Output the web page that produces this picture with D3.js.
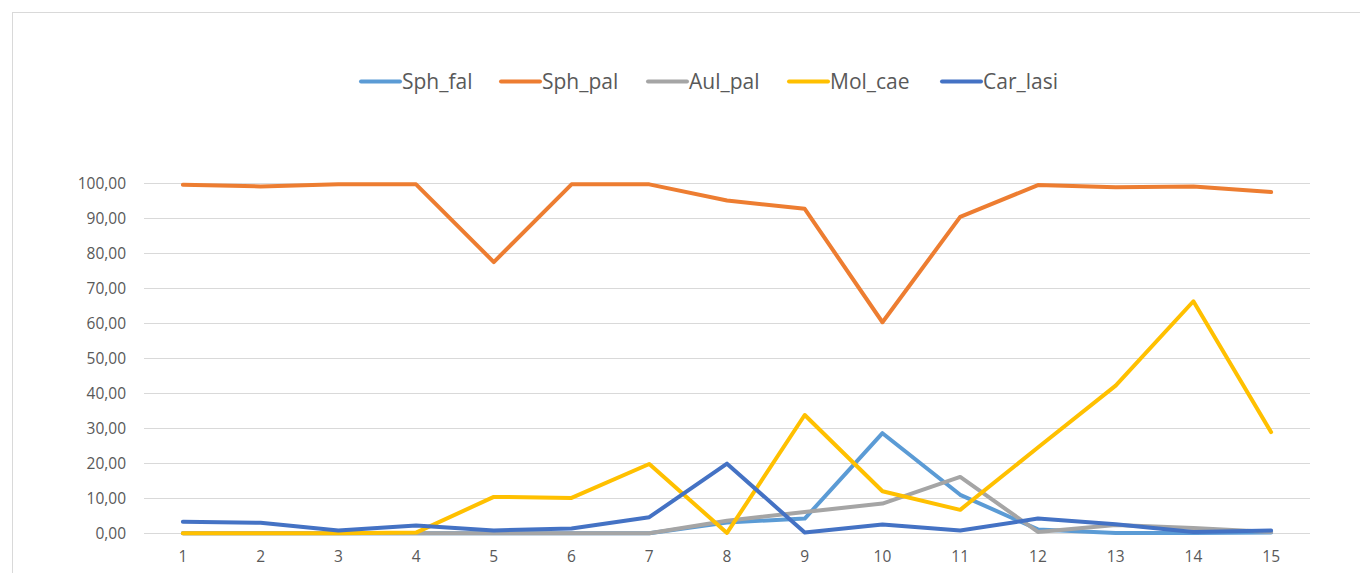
<!DOCTYPE html>
<html><head><meta charset="utf-8">
<script src="https://cdn.jsdelivr.net/npm/d3@7"></script>
<style>
html,body{margin:0;padding:0;background:#fff;}
svg{display:block;}
text{font-family:"Open Sans","Liberation Sans",sans-serif;fill:#595959;}
</style></head>
<body>
<svg id="chart" width="1360" height="573"></svg>
<script>
const categories = ["1","2","3","4","5","6","7","8","9","10","11","12","13","14","15"];
const seriesNames = ["Sph_fal","Sph_pal","Aul_pal","Mol_cae","Car_lasi"];
const seriesColors = ["#5B9BD5","#ED7D31","#A5A5A5","#FFC000","#4472C4"];
const sphFal  = [0.0,0.0,0.0,0.0,0.0,0.0,0.0,3.1,4.2,28.6,11.0,1.1,0.1,0.1,0.2];
const sphPal  = [99.6,99.1,99.7,99.7,77.5,99.7,99.7,95.1,92.7,60.3,90.4,99.5,98.9,99.1,97.5];
const aulPal  = [0.0,0.0,0.0,0.0,0.0,0.0,0.0,3.6,6.1,8.5,16.1,0.4,2.4,1.5,0.4];
const molCae  = [0.0,0.0,0.0,0.2,10.4,10.1,19.8,0.1,33.8,12.0,6.7,24.5,42.2,66.3,28.9];
const carLasi = [3.3,3.0,0.8,2.2,0.8,1.4,4.6,19.9,0.2,2.5,0.8,4.2,2.6,0.4,0.8];
const yTicks  = [0,10,20,30,40,50,60,70,80,90,100];
const seriesValues = [sphFal, sphPal, aulPal, molCae, carLasi];

const svg = d3.select("#chart");
// chart frame
svg.append("rect").attr("x",12.5).attr("y",12.5).attr("width",1400).attr("height",600)
  .attr("fill","#fff").attr("stroke","#d9d9d9").attr("stroke-width",1);

const x = d3.scaleBand().domain(categories).range([144,1310]);
const y = d3.scaleLinear().domain([0,100]).range([533.3,183.3]);

// gridlines
svg.append("g").selectAll("line").data(yTicks).join("line")
  .attr("x1",144).attr("x2",1310)
  .attr("y1",d=>Math.round(y(d))+0.5).attr("y2",d=>Math.round(y(d))+0.5)
  .attr("stroke","#d9d9d9").attr("stroke-width",1.2);

const fmt = d => d.toFixed(2).replace(".",",");
const yAxis = d3.axisLeft(y).tickValues(yTicks).tickFormat(fmt).tickSize(0).tickPadding(18);
const gy = svg.append("g").attr("transform","translate(144,0)").call(yAxis);
gy.select(".domain").remove();
gy.selectAll("text").attr("font-size",15.5).attr("fill","#595959")
  .style("font-family",'"Open Sans","Liberation Sans",sans-serif');

const xAxis = d3.axisBottom(x).tickSize(0);
const gx = svg.append("g").attr("transform","translate(0,533.3)").call(xAxis);
gx.select(".domain").remove();
gx.selectAll("text").attr("font-size",15.5).attr("fill","#595959").attr("y",29).attr("dy",0)
  .style("font-family",'"Open Sans","Liberation Sans",sans-serif');

const line = d3.line().x((d,i)=>x(categories[i])+x.bandwidth()/2).y(d=>y(d));
seriesValues.forEach((vals,k)=>{
  svg.append("path").datum(vals).attr("d",line)
    .attr("fill","none").attr("stroke",seriesColors[k]).attr("stroke-width",4)
    .attr("stroke-linejoin","round").attr("stroke-linecap","round");
});

// legend
const legendX = [360,500,647,788,941];
const lg = svg.append("g");
seriesNames.forEach((n,k)=>{
  const g = lg.append("g").attr("transform",`translate(${legendX[k]},81.5)`);
  g.append("line").attr("x1",1).attr("x2",40).attr("y1",0).attr("y2",0)
    .attr("stroke",seriesColors[k]).attr("stroke-width",4).attr("stroke-linecap","round");
  g.append("text").attr("x",42).attr("y",7.5).attr("font-size",21).text(n);
});
</script>
</body></html>
